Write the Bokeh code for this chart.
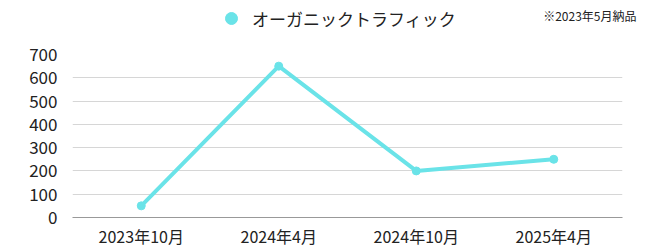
from bokeh.plotting import figure
from bokeh.layouts import column, row
from bokeh.models import Legend, LegendItem, Label, FixedTicker, ColumnDataSource
from bokeh.embed import file_html
from bokeh.resources import INLINE

categories = ["2023年10月", "2024年4月", "2024年10月", "2025年4月"]
values = [50, 650, 200, 250]
series_name = "オーガニックトラフィック"
note = "※2023年5月納品"
y_ticks = [0, 100, 200, 300, 400, 500, 600, 700]

COLOR = "#6ae3e8"
FONT = "Noto Sans CJK JP"
TXT = "#222222"

# header with legend + note (own full-width frame, pixel coordinates)
head = figure(width=655, height=42, x_range=(0, 655), y_range=(0, 42),
              x_axis_type=None, y_axis_type=None,
              output_backend="svg", toolbar_location=None,
              min_border=0)
if "frame_align" in head.properties():
    head.frame_align = False
head.outline_line_color = None
head.grid.grid_line_color = None
dummy = head.scatter([-100], [-100], size=12, fill_color=COLOR, line_color=COLOR)
legend = Legend(items=[LegendItem(label=series_name, renderers=[dummy])],
                orientation="horizontal", location=(216, 9),
                label_text_font=FONT, label_text_font_size="17px",
                label_text_color=TXT, border_line_color=None,
                background_fill_alpha=0,
                glyph_width=30, glyph_height=30, padding=0, margin=0,
                label_standoff=6, spacing=0)
head.add_layout(legend)
head.add_layout(Label(x=636, y=27, text=note, text_font=FONT,
                      text_font_size="12px", text_color=TXT,
                      text_align="right", text_baseline="middle"))

# main chart
p = figure(width=655, height=208, x_range=categories, y_range=(0, 700),
           output_backend="svg", toolbar_location=None,
           min_border_left=72, min_border_right=33, min_border_top=12,
           min_border_bottom=33)
if "frame_align" in p.properties():
    p.frame_align = False
p.outline_line_color = None

src = ColumnDataSource(dict(x=categories, y=values))
p.line("x", "y", source=src, line_color=COLOR, line_width=4)
p.scatter("x", "y", source=src, size=8, fill_color=COLOR, line_color=COLOR)

p.yaxis.ticker = FixedTicker(ticks=y_ticks)
p.yaxis.axis_line_color = None
p.yaxis.major_tick_line_color = None
p.yaxis.minor_tick_line_color = None
p.yaxis.major_tick_out = 0
p.yaxis.major_tick_in = 0
p.yaxis.major_label_text_font = FONT
p.yaxis.major_label_text_font_size = "17px"
p.yaxis.major_label_text_color = TXT
p.yaxis.major_label_standoff = 15

p.xaxis.axis_line_color = "#999999"
p.xaxis.axis_line_width = 1
p.xaxis.major_tick_line_color = None
p.xaxis.minor_tick_line_color = None
p.xaxis.major_tick_out = 0
p.xaxis.major_tick_in = 0
p.xaxis.major_label_text_font = FONT
p.xaxis.major_label_text_font_size = "16px"
p.xaxis.major_label_text_color = TXT
p.xaxis.major_label_standoff = 6

p.xgrid.grid_line_color = None
p.ygrid.grid_line_color = "#d6d6d6"
p.ygrid.grid_line_width = 1

open("out.html", "w").write(file_html(column(row(head), p, spacing=0), INLINE))
